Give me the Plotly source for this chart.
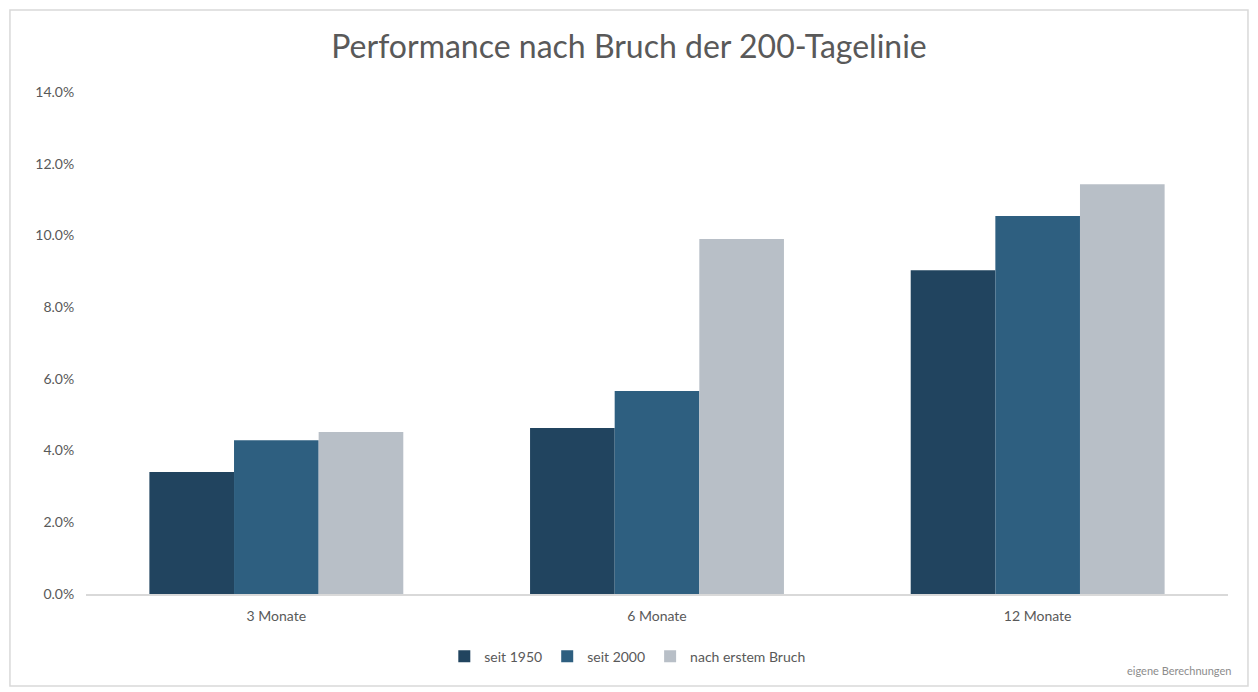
import plotly.graph_objects as go

categories = ['3 Monate', '6 Monate', '12 Monate']
seit_1950 = [0.034, 0.0463, 0.0903]
seit_2000 = [0.0429, 0.0566, 0.1054]
nach_erstem_bruch = [0.0452, 0.099, 0.1143]

series = [
    ('seit 1950', seit_1950, '#21445F'),
    ('seit 2000', seit_2000, '#2E5F80'),
    ('nach erstem Bruch', nach_erstem_bruch, '#B8BFC7'),
]

fig = go.Figure([
    go.Bar(name=name, x=categories, y=vals, marker=dict(color=col, line=dict(width=0)))
    for name, vals, col in series
])

fig.update_layout(
    width=1258, height=692,
    margin=dict(l=86, r=30, t=92, b=98),
    paper_bgcolor='white',
    plot_bgcolor='white',
    font=dict(family='Lato, Open Sans, sans-serif', color='#595959', size=14),
    title=dict(text='Performance nach Bruch der 200-Tagelinie', x=0.5, xanchor='center',
               y=0.932, yanchor='middle', font=dict(size=32, color='#595959')),
    barmode='group',
    bargap=0.333,
    bargroupgap=0,
    showlegend=True,
    legend=dict(orientation='h', x=0.474, xanchor='center', y=-0.125, yanchor='middle',
                font=dict(size=14, color='#595959'), itemwidth=30),
    xaxis=dict(showline=True, linecolor='#D9D9D9', linewidth=1.5, ticks='',
               ticklabelstandoff=8, tickfont=dict(size=14, color='#595959')),
    yaxis=dict(range=[0, 0.14], dtick=0.02, tickformat='.1%', showgrid=False,
               zeroline=False, showline=False, ticks='outside', ticklen=8,
               tickcolor='rgba(0,0,0,0)', tickfont=dict(size=14, color='#595959')),
    shapes=[dict(type='rect', xref='paper', yref='paper',
                 x0=-0.0666, x1=1.0175, y0=-0.1833, y1=1.1633,
                 line=dict(color='#D9D9D9', width=1.5), fillcolor='rgba(0,0,0,0)', layer='below')],
    annotations=[dict(text='eigene Berechnungen', xref='paper', yref='paper',
                      x=1.004, xanchor='right', y=-0.153, yanchor='middle', showarrow=False,
                      font=dict(size=11, color='#8C8C8C'))],
)

# page body has a default 8px margin; drop it so the figure sits at the window origin
fig.write_html('out.html', config={'displayModeBar': False},
               post_script="document.body.style.margin='0';")
